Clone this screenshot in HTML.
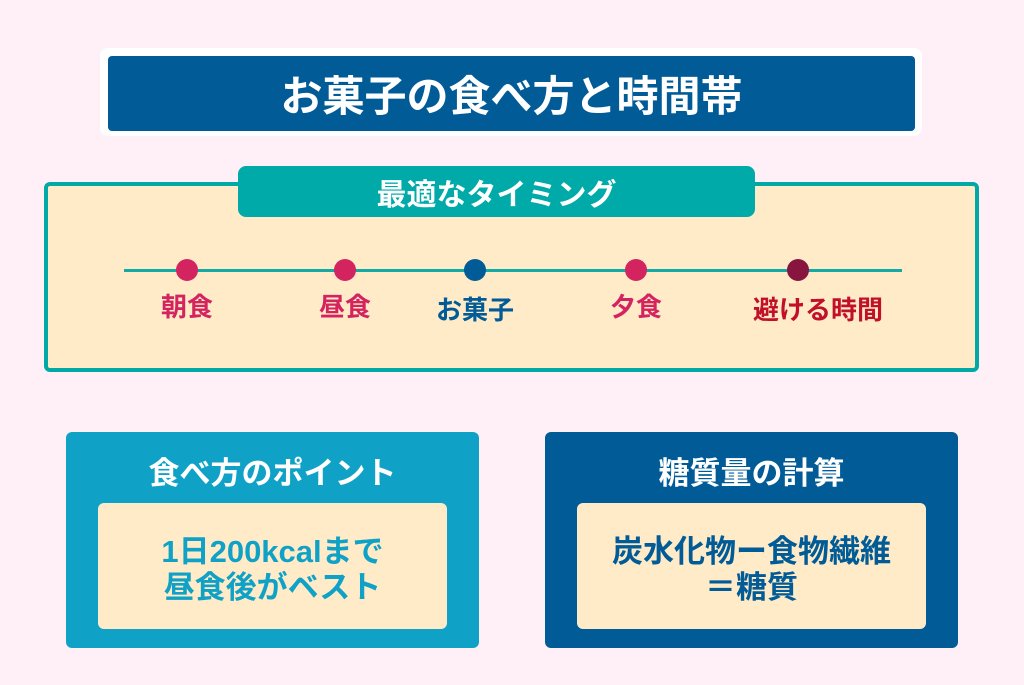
<!DOCTYPE html>
<html><head><meta charset="utf-8"><style>
*{margin:0;padding:0;box-sizing:border-box}
body{width:1024px;height:685px;background:#fff0f8;position:relative;overflow:hidden;font-family:"Liberation Sans","Noto Sans CJK JP",sans-serif;font-weight:bold}
.a{position:absolute}
.c{display:flex;align-items:center;justify-content:center;text-align:center}
.dot{position:absolute;width:22px;height:22px;border-radius:50%;top:259px}
.lbl{position:absolute;top:292px;font-size:26px;width:180px;text-align:center;line-height:30px}
</style></head><body>
<div class="a" style="left:100px;top:48px;width:822px;height:88px;background:#fff;border-radius:8px"></div>
<div class="a c" style="left:108px;top:56px;width:807px;height:75px;background:#005b96;border-radius:4px;color:#fff;font-size:42px">お菓子の食べ方と時間帯</div>

<div class="a" style="left:44px;top:182px;width:935px;height:190px;background:#ffebc8;border:4px solid #00a9a5;border-radius:6px"></div>
<div class="a c" style="left:238px;top:166px;width:517px;height:51px;background:#00aaa8;border-radius:8px;color:#fff;font-size:30px">最適なタイミング</div>

<div class="a" style="left:124px;top:268.5px;width:778px;height:3px;background:#13aaa5"></div>
<div class="dot" style="left:176px;background:#d42460"></div>
<div class="dot" style="left:334px;background:#d42460"></div>
<div class="dot" style="left:464px;background:#005b96"></div>
<div class="dot" style="left:625px;background:#d42460"></div>
<div class="dot" style="left:787px;background:#881540"></div>
<div class="lbl" style="left:97px;color:#d42460">朝食</div>
<div class="lbl" style="left:255px;color:#d42460">昼食</div>
<div class="lbl" style="left:385px;top:295px;color:#005b96">お菓子</div>
<div class="lbl" style="left:546px;color:#d42460">夕食</div>
<div class="lbl" style="left:728px;top:295px;color:#c0102a">避ける時間</div>

<div class="a" style="left:66px;top:432px;width:413px;height:216px;background:#10a2c6;border-radius:6px"></div>
<div class="a c" style="left:66px;top:448px;width:413px;height:44px;color:#fff;font-size:31px">食べ方のポイント</div>
<div class="a" style="left:98px;top:503px;width:349px;height:126px;background:#ffebc8;border-radius:6px"></div>
<div class="a" style="left:98px;top:534px;width:349px;text-align:center;color:#10a2c6;font-size:31px;line-height:36px">1日200kcalまで<br>昼食後がベスト</div>

<div class="a" style="left:545px;top:432px;width:413px;height:216px;background:#005b96;border-radius:6px"></div>
<div class="a c" style="left:545px;top:448px;width:413px;height:44px;color:#fff;font-size:31px">糖質量の計算</div>
<div class="a" style="left:577px;top:503px;width:349px;height:126px;background:#ffebc8;border-radius:6px"></div>
<div class="a" style="left:577px;top:534px;width:349px;text-align:center;color:#005b96;font-size:31px;line-height:36px">炭水化物ー食物繊維<br>＝糖質</div>
</body></html>
